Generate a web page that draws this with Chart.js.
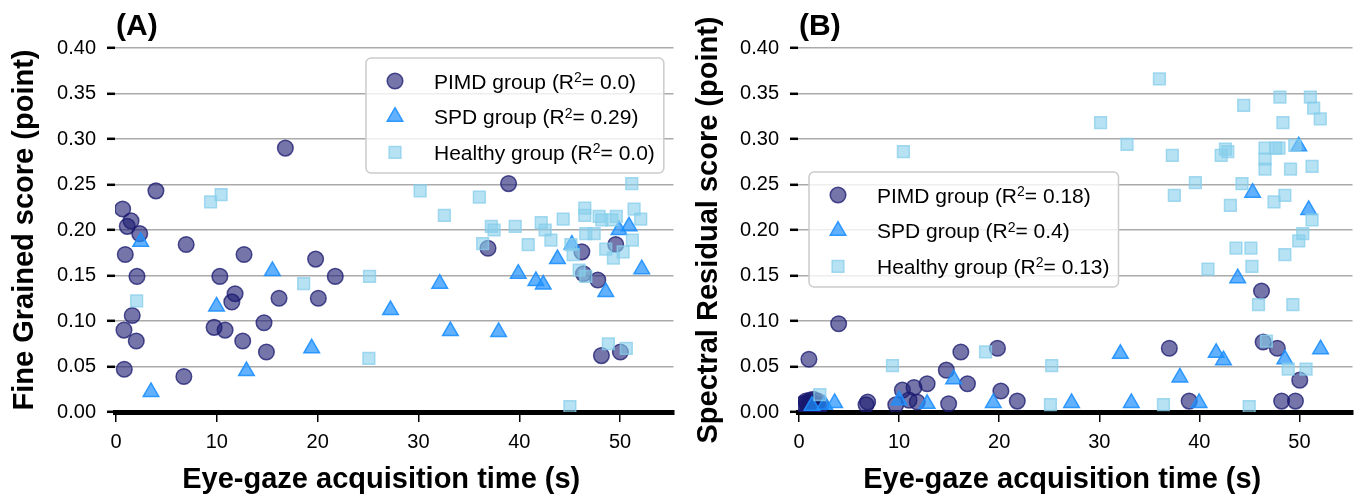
<!DOCTYPE html>
<html><head><meta charset="utf-8">
<script src="https://cdn.jsdelivr.net/npm/chart.js@4.4.0/dist/chart.umd.min.js"></script>
<style>
html,body{margin:0;padding:0;background:#fff;}
#wrap{position:relative;width:1363px;height:496px;overflow:hidden;background:#fff;}
canvas{position:absolute;top:0;}
</style></head><body>
<div id="wrap">
<canvas id="cA" width="684" height="496" style="left:0;width:684px;height:496px"></canvas>
<canvas id="cB" width="679" height="496" style="left:684px;width:679px;height:496px"></canvas>
</div>
<script>
// ---------- data ----------
const xTicks = [0, 10, 20, 30, 40, 50];
const yTickValues = [0, 0.05, 0.10, 0.15, 0.20, 0.25, 0.30, 0.35, 0.40];
const yTickLabels = ['0.00', '0.05', '0.10', '0.15', '0.20', '0.25', '0.30', '0.35', '0.40'];
const groupNames = ['PIMD group', 'SPD group', 'Healthy group'];
const aR2 = ['0.0', '0.29', '0.0'];
const bR2 = ['0.18', '0.4', '0.13'];
const panelLabels = ['(A)', '(B)'];
const xTitle = 'Eye-gaze acquisition time (s)';
const aYTitle = 'Fine Grained score (point)';
const bYTitle = 'Spectral Residual score (point)';

// Panel A
const aPimdX = [16.80, 3.96, 0.66, 1.49, 1.12, 2.35, 6.96, 0.92, 12.70, 2.08, 10.30, 11.81, 11.49, 16.17, 1.61, 0.79, 2.01, 9.73, 10.82, 12.57, 14.68, 14.92, 0.82, 6.73, 19.80, 21.75, 20.07, 38.94, 36.90, 46.21, 49.57, 46.37, 47.79, 48.15, 50.03];
const aPimdY = [0.290, 0.243, 0.223, 0.210, 0.204, 0.196, 0.184, 0.173, 0.173, 0.149, 0.149, 0.130, 0.121, 0.125, 0.106, 0.090, 0.078, 0.093, 0.090, 0.078, 0.098, 0.066, 0.047, 0.039, 0.168, 0.149, 0.125, 0.251, 0.180, 0.176, 0.184, 0.152, 0.145, 0.062, 0.066];
const aSpdX = [2.45, 15.51, 9.97, 12.94, 3.47, 32.11, 27.23, 19.41, 33.17, 37.95, 39.90, 41.65, 42.38, 43.79, 45.22, 48.58, 49.90, 50.89, 52.15];
const aSpdY = [0.187, 0.155, 0.116, 0.045, 0.022, 0.141, 0.112, 0.070, 0.089, 0.088, 0.152, 0.144, 0.140, 0.168, 0.184, 0.132, 0.200, 0.204, 0.157];
const aHealthyX = [9.38, 10.43, 2.05, 30.17, 32.57, 18.61, 25.15, 25.08, 36.04, 37.23, 37.50, 36.37, 39.60, 40.89, 42.18, 42.57, 43.14, 44.36, 45.12, 45.35, 46.50, 46.50, 46.60, 47.43, 47.92, 48.19, 49.18, 49.63, 48.58, 49.34, 50.30, 51.22, 51.39, 52.05, 51.16, 45.94, 46.60, 48.84, 50.62, 45.02];
const aHealthyY = [0.231, 0.239, 0.122, 0.243, 0.216, 0.141, 0.149, 0.059, 0.236, 0.204, 0.200, 0.185, 0.204, 0.184, 0.208, 0.200, 0.189, 0.212, 0.184, 0.173, 0.224, 0.216, 0.196, 0.196, 0.215, 0.211, 0.211, 0.215, 0.179, 0.169, 0.176, 0.189, 0.223, 0.212, 0.251, 0.156, 0.149, 0.075, 0.070, 0.006];

// Panel B
const bPimdX = [3.96, 0.99, 0.40, 0.69, 0.99, 1.29, 1.58, 1.88, 2.18, 0.89, 1.39, 0.55, 1.10, 1.70, 2.00, 0.75, 1.45, 6.86, 6.70, 10.33, 11.49, 12.80, 11.81, 9.67, 10.99, 14.72, 16.17, 16.83, 14.95, 19.83, 20.17, 21.81, 37.00, 38.98, 46.21, 46.37, 47.79, 50.03, 48.22, 49.60];
const bPimdY = [0.097, 0.058, 0.009, 0.012, 0.008, 0.011, 0.009, 0.012, 0.008, 0.004, 0.005, 0.005, 0.013, 0.006, 0.004, 0.010, 0.014, 0.011, 0.008, 0.024, 0.027, 0.031, 0.011, 0.008, 0.013, 0.046, 0.066, 0.031, 0.009, 0.070, 0.023, 0.012, 0.070, 0.012, 0.133, 0.077, 0.070, 0.035, 0.012, 0.012];
const bSpdX = [1.29, 2.57, 3.56, 10.00, 12.80, 15.45, 19.41, 27.23, 32.11, 33.20, 38.05, 39.97, 41.68, 42.41, 48.54, 52.11, 43.83, 45.32, 49.93, 50.92];
const bSpdY = [0.007, 0.008, 0.010, 0.013, 0.009, 0.036, 0.010, 0.010, 0.064, 0.010, 0.038, 0.010, 0.065, 0.057, 0.058, 0.069, 0.147, 0.241, 0.292, 0.222];
const bHealthyX = [2.08, 9.34, 10.43, 18.64, 25.25, 25.12, 36.41, 44.98, 36.01, 30.13, 32.77, 37.30, 44.43, 48.05, 51.09, 51.42, 52.08, 48.35, 42.60, 42.84, 42.18, 46.56, 47.62, 47.95, 49.53, 46.56, 46.56, 49.11, 51.26, 39.60, 37.50, 44.26, 43.10, 47.46, 48.54, 51.26, 50.33, 49.93, 43.66, 45.15, 48.54, 40.86, 45.25, 45.91, 49.34, 46.70, 48.88, 50.66];
const bHealthyY = [0.019, 0.051, 0.286, 0.066, 0.051, 0.008, 0.008, 0.006, 0.366, 0.318, 0.294, 0.282, 0.337, 0.346, 0.346, 0.334, 0.322, 0.318, 0.289, 0.286, 0.282, 0.290, 0.290, 0.290, 0.293, 0.278, 0.267, 0.267, 0.270, 0.252, 0.238, 0.251, 0.227, 0.231, 0.238, 0.211, 0.196, 0.188, 0.180, 0.180, 0.173, 0.157, 0.160, 0.118, 0.118, 0.078, 0.047, 0.047];

// ---------- styles ----------
const FAM = "'Liberation Sans', Arial, Helvetica, sans-serif";
const STY = [
  {pointStyle: 'circle', radius: 7.8, fill: 'rgba(25,25,112,0.6)', stroke: 'rgba(25,25,112,0.75)'},
  {pointStyle: 'triangle', radius: 9, fill: 'rgba(30,144,255,0.7)', stroke: 'rgba(30,144,255,0.9)'},
  {pointStyle: 'rect', radius: 8.3, fill: 'rgba(135,206,235,0.6)', stroke: 'rgba(135,206,235,0.75)'}
];

function pts(xs, ys) { return xs.map((x, i) => ({x: x, y: ys[i]})); }

function drawMarker(ctx, st, x, y) {
  ctx.beginPath();
  const r = st.radius;
  if (st.pointStyle === 'circle') {
    ctx.arc(x, y, r, 0, Math.PI * 2);
  } else if (st.pointStyle === 'triangle') {
    for (let k = 0; k < 3; k++) {
      const a = k * 2 * Math.PI / 3;
      const px = x + Math.sin(a) * r, py = y - Math.cos(a) * r;
      if (k === 0) ctx.moveTo(px, py); else ctx.lineTo(px, py);
    }
    ctx.closePath();
  } else {
    const s = r * Math.SQRT1_2;
    ctx.rect(x - s, y - s, 2 * s, 2 * s);
  }
  ctx.fillStyle = st.fill; ctx.fill();
  ctx.lineWidth = 1.5; ctx.strokeStyle = st.stroke; ctx.stroke();
}

function makeDecor(box, r2, panelLabel) {
  return {
    id: 'decor',
    afterDraw(chart) {
      const ctx = chart.ctx;
      const ca = chart.chartArea;
      ctx.save();
      // panel label
      ctx.font = 'bold 30px ' + FAM;
      ctx.fillStyle = '#000';
      ctx.textBaseline = 'alphabetic';
      ctx.textAlign = 'left';
      ctx.fillText(panelLabel, ca.left + 1, 35);
      // x-axis title
      ctx.font = 'bold 29px ' + FAM;
      ctx.textAlign = 'center';
      ctx.fillText(xTitle, (ca.left + ca.right) / 2 - 13, 488);
      ctx.textAlign = 'left';
      // legend
      const main = '21px ' + FAM, sup = '14px ' + FAM;
      const parts = groupNames.map((n, i) => ({pre: n + ' (R', post: '= ' + r2[i] + ')'}));
      const widths = parts.map(p => {
        ctx.font = main; let w = ctx.measureText(p.pre).width + ctx.measureText(p.post).width;
        ctx.font = sup; w += ctx.measureText('2').width; return w;
      });
      const w = 68 + Math.max(...widths) + 9;
      const h = 115;
      const rr = 5;
      ctx.beginPath();
      ctx.moveTo(box.x + rr, box.y);
      ctx.arcTo(box.x + w, box.y, box.x + w, box.y + h, rr);
      ctx.arcTo(box.x + w, box.y + h, box.x, box.y + h, rr);
      ctx.arcTo(box.x, box.y + h, box.x, box.y, rr);
      ctx.arcTo(box.x, box.y, box.x + w, box.y, rr);
      ctx.closePath();
      ctx.fillStyle = 'rgba(255,255,255,0.8)';
      ctx.fill();
      ctx.lineWidth = 1.5; ctx.strokeStyle = '#cccccc'; ctx.stroke();
      parts.forEach((p, i) => {
        const cy = box.y + 23 + i * 35.7;
        drawMarker(ctx, STY[i], box.x + 29, cy);
        const base = cy + 7.5;
        let tx = box.x + 68;
        ctx.fillStyle = '#000';
        ctx.textBaseline = 'alphabetic';
        ctx.font = main; ctx.fillText(p.pre, tx, base); tx += ctx.measureText(p.pre).width;
        ctx.font = sup; ctx.fillText('2', tx, base - 6.5); tx += ctx.measureText('2').width;
        ctx.font = main; ctx.fillText(p.post, tx, base);
      });
      ctx.restore();
    }
  };
}

function makeChart(id, data, yTitle, yWidth, rightPad, box, r2, panelLabel) {
  const datasets = groupNames.map((n, i) => ({
    label: n,
    data: data[i],
    pointStyle: STY[i].pointStyle,
    pointRadius: STY[i].radius,
    pointHoverRadius: STY[i].radius,
    pointBackgroundColor: STY[i].fill,
    pointBorderColor: STY[i].stroke,
    pointBorderWidth: 1.5,
    showLine: false,
    order: 3 - i
  }));
  return new Chart(document.getElementById(id), {
    type: 'scatter',
    data: {datasets: datasets},
    options: {
      responsive: false,
      animation: false,
      devicePixelRatio: 1,
      layout: {padding: {left: 0, top: 48, right: rightPad, bottom: 0}},
      plugins: {legend: {display: false}, tooltip: {enabled: false}, title: {display: false}},
      scales: {
        x: {
          type: 'linear', min: -0.1, max: 55.3, z: 1,
          afterBuildTicks: s => { s.ticks = xTicks.map(v => ({value: v})); },
          afterFit: s => { s.height = 84; },
          ticks: {font: {size: 20, family: FAM}, color: '#000', padding: 8, maxRotation: 0,
                  callback: (v) => String(v)},
          grid: {drawOnChartArea: false, drawTicks: true, tickLength: 10, color: '#000', tickColor: '#000', tickWidth: 1.5, lineWidth: 1.5},
          border: {display: true, color: '#000', width: 5},
          title: {display: false}
        },
        y: {
          type: 'linear', min: 0, max: 0.4,
          afterBuildTicks: s => { s.ticks = yTickValues.map(v => ({value: v})); },
          afterFit: s => { s.width = yWidth; },
          ticks: {font: {size: 20, family: FAM}, color: '#000', padding: 11,
                  callback: (v, i) => yTickLabels[i]},
          grid: {color: '#aaaaaa', lineWidth: 1.6, tickColor: '#000', tickLength: 8, tickWidth: 2.5, drawTicks: true},
          border: {display: false},
          title: {display: true, text: yTitle, font: {size: 29, weight: 'bold', family: FAM}, color: '#000', padding: {top: 8, bottom: 0}}
        }
      }
    },
    plugins: [makeDecor(box, r2, panelLabel)]
  });
}

makeChart('cA', [pts(aPimdX, aPimdY), pts(aSpdX, aSpdY), pts(aHealthyX, aHealthyY)], aYTitle, 115, 9.5, {x: 366, y: 58}, aR2, panelLabels[0]);
makeChart('cB', [pts(bPimdX, bPimdY), pts(bSpdX, bSpdY), pts(bHealthyX, bHealthyY)], bYTitle, 114, 5.5, {x: 125, y: 172}, bR2, panelLabels[1]);
</script>
</body></html>
